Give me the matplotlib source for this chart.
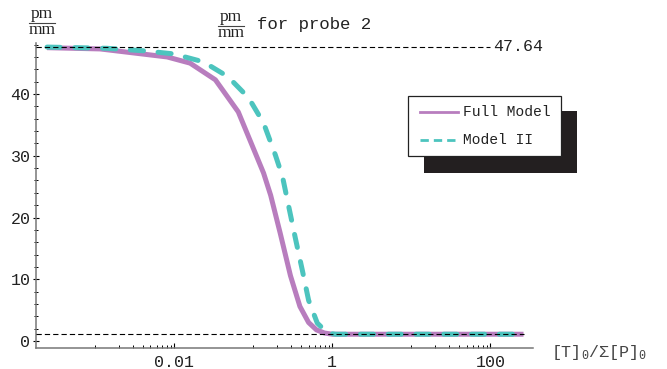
import numpy as np
import matplotlib
matplotlib.use("Agg")
import matplotlib.pyplot as plt
from matplotlib.patches import Rectangle
from matplotlib.lines import Line2D

plt.rcParams['font.family'] = ['Liberation Mono', 'DejaVu Sans Mono']
plt.rcParams['mathtext.fontset'] = 'custom'
plt.rcParams['mathtext.rm'] = 'Liberation Mono'
plt.rcParams['lines.scale_dashes'] = False

# data (x in log10 units, y in pm/mm)
full_logx = [-3.61, -2.94, -2.09, -1.80, -1.48, -1.19, -0.87, -0.78, -0.66,
             -0.53, -0.41, -0.30, -0.20, -0.10, 0.0, 2.42]
full_y = [47.5, 47.3, 46.0, 45.0, 42.3, 37.1, 27.2, 23.6, 17.5,
          10.6, 5.6, 3.0, 1.8, 1.3, 1.1, 1.1]
m2_logx = [-3.61, -2.85, -2.39, -2.01, -1.63, -1.32, -1.06, -0.87, -0.72,
           -0.63, -0.56, -0.47, -0.38, -0.30, -0.19, -0.06, 0.04, 2.42]
m2_y = [47.6, 47.4, 47.0, 46.5, 45.2, 42.8, 39.4, 35.3, 30.1,
        26.6, 22.3, 16.8, 11.5, 6.6, 2.9, 1.3, 1.1, 1.1]
series_names = ["Full Model", "Model II"]
upper_level = 47.64
lower_level = 1.1

xticks = [0.01, 1, 100]
xtick_labels = ["0.01", "1", "100"]
xminor = [k * 10.0**e for e in (-3, -1, 1) for k in range(1, 10)]
yticks = [0, 10, 20, 30, 40]

purple = '#B87DBE'
teal = '#4CC4BE'

W, H = 667, 369
fig = plt.figure(figsize=(W / 100, H / 100), dpi=100)

def fx(px):
    return px / W

def fy(py):
    return 1 - py / H

ax = fig.add_axes([fx(36), fy(348), fx(533) - fx(36), fy(43) - fy(348)])
ax.set_xscale('log')
ax.set_xlim(10**-3.75, 10**2.54)
ax.set_ylim(-1.13, 48.26)

fx_full = 10.0**np.array(full_logx)
fx_m2 = 10.0**np.array(m2_logx)
ax.plot(fx_full, full_y, color=purple, lw=3.6, solid_capstyle='butt',
        solid_joinstyle='round', zorder=3)
ax.plot(fx_m2, m2_y, color=teal, lw=3.6, dashes=(9.5, 10.5),
        dash_capstyle='round', zorder=4)

# reference levels
ax.plot([10**-3.75, 100], [upper_level] * 2, color='black', lw=0.8,
        dashes=(3.8, 2.2), zorder=5)
ax.plot([10**-3.75, 10**2.42], [lower_level] * 2, color='black', lw=0.8,
        dashes=(3.8, 2.2), zorder=5)
ax.text(110, upper_level, "%.2f" % upper_level, fontsize=12, color='#222222',
        va='center', ha='left')

for s in ['top', 'right']:
    ax.spines[s].set_visible(False)
for s in ['left', 'bottom']:
    ax.spines[s].set_color('#777777')
    ax.spines[s].set_linewidth(1.1)
ax.patch.set_visible(False)

ax.set_xticks(xticks)
ax.set_xticklabels(xtick_labels)
ax.set_xticks(xminor, minor=True)
ax.xaxis.set_minor_formatter(matplotlib.ticker.NullFormatter())
ax.set_yticks(yticks)
ax.set_yticks(np.arange(0, 49, 2), minor=True)
ax.tick_params(axis='x', which='major', direction='in', length=3.5, width=0.8,
               labelsize=12, labelcolor='#222222', pad=5)
ax.tick_params(axis='x', which='minor', direction='in', length=2, width=0.7)
ax.tick_params(axis='y', which='major', direction='inout', length=4, width=0.8,
               labelsize=12, labelcolor='#222222', pad=2)
ax.tick_params(axis='y', which='minor', direction='inout', length=3, width=0.7)

# axis label
fig.text(fx(551), fy(352), r'$\mathrm{[T]_0/\Sigma[P]_0}$', fontsize=12,
         color='#444444', va='center', ha='left')

# fractions pm/mm
def frac(xc, ytop, ybar, ybot, half):
    fig.text(fx(xc), fy(ytop), "pm", family='Liberation Serif', fontsize=12.5,
             ha='center', va='center', color='#222222')
    fig.add_artist(Line2D([fx(xc - half), fx(xc + half)], [fy(ybar)] * 2,
                          color='#444444', lw=0.8))
    fig.text(fx(xc), fy(ybot), "mm", family='Liberation Serif', fontsize=12.5,
             ha='center', va='center', color='#222222')

frac(42, 14, 22.5, 30, 13)
frac(231, 17, 26, 33, 13)
fig.text(fx(257), fy(24), "for probe 2", fontsize=12.5, color='#222222',
         va='center', ha='left')

# legend with solid shadow
fig.add_artist(Rectangle((fx(424), fy(173)), fx(577) - fx(424), fy(111) - fy(173),
                         facecolor='#231f20', edgecolor='none'))
fig.add_artist(Rectangle((fx(408), fy(156)), fx(561) - fx(408), fy(96) - fy(156),
                         facecolor='white', edgecolor='#222222', lw=0.9))
fig.add_artist(Line2D([fx(420), fx(458)], [fy(112)] * 2, color=purple, lw=2))
fig.add_artist(Line2D([fx(420), fx(458)], [fy(140)] * 2, color=teal, lw=2,
                      dashes=(6, 3.6)))
fig.text(fx(463), fy(112), series_names[0], fontsize=10.5, color='#222222',
         va='center', ha='left')
fig.text(fx(463), fy(140), series_names[1], fontsize=10.5, color='#222222',
         va='center', ha='left')

fig.savefig("out.png", dpi=100)
